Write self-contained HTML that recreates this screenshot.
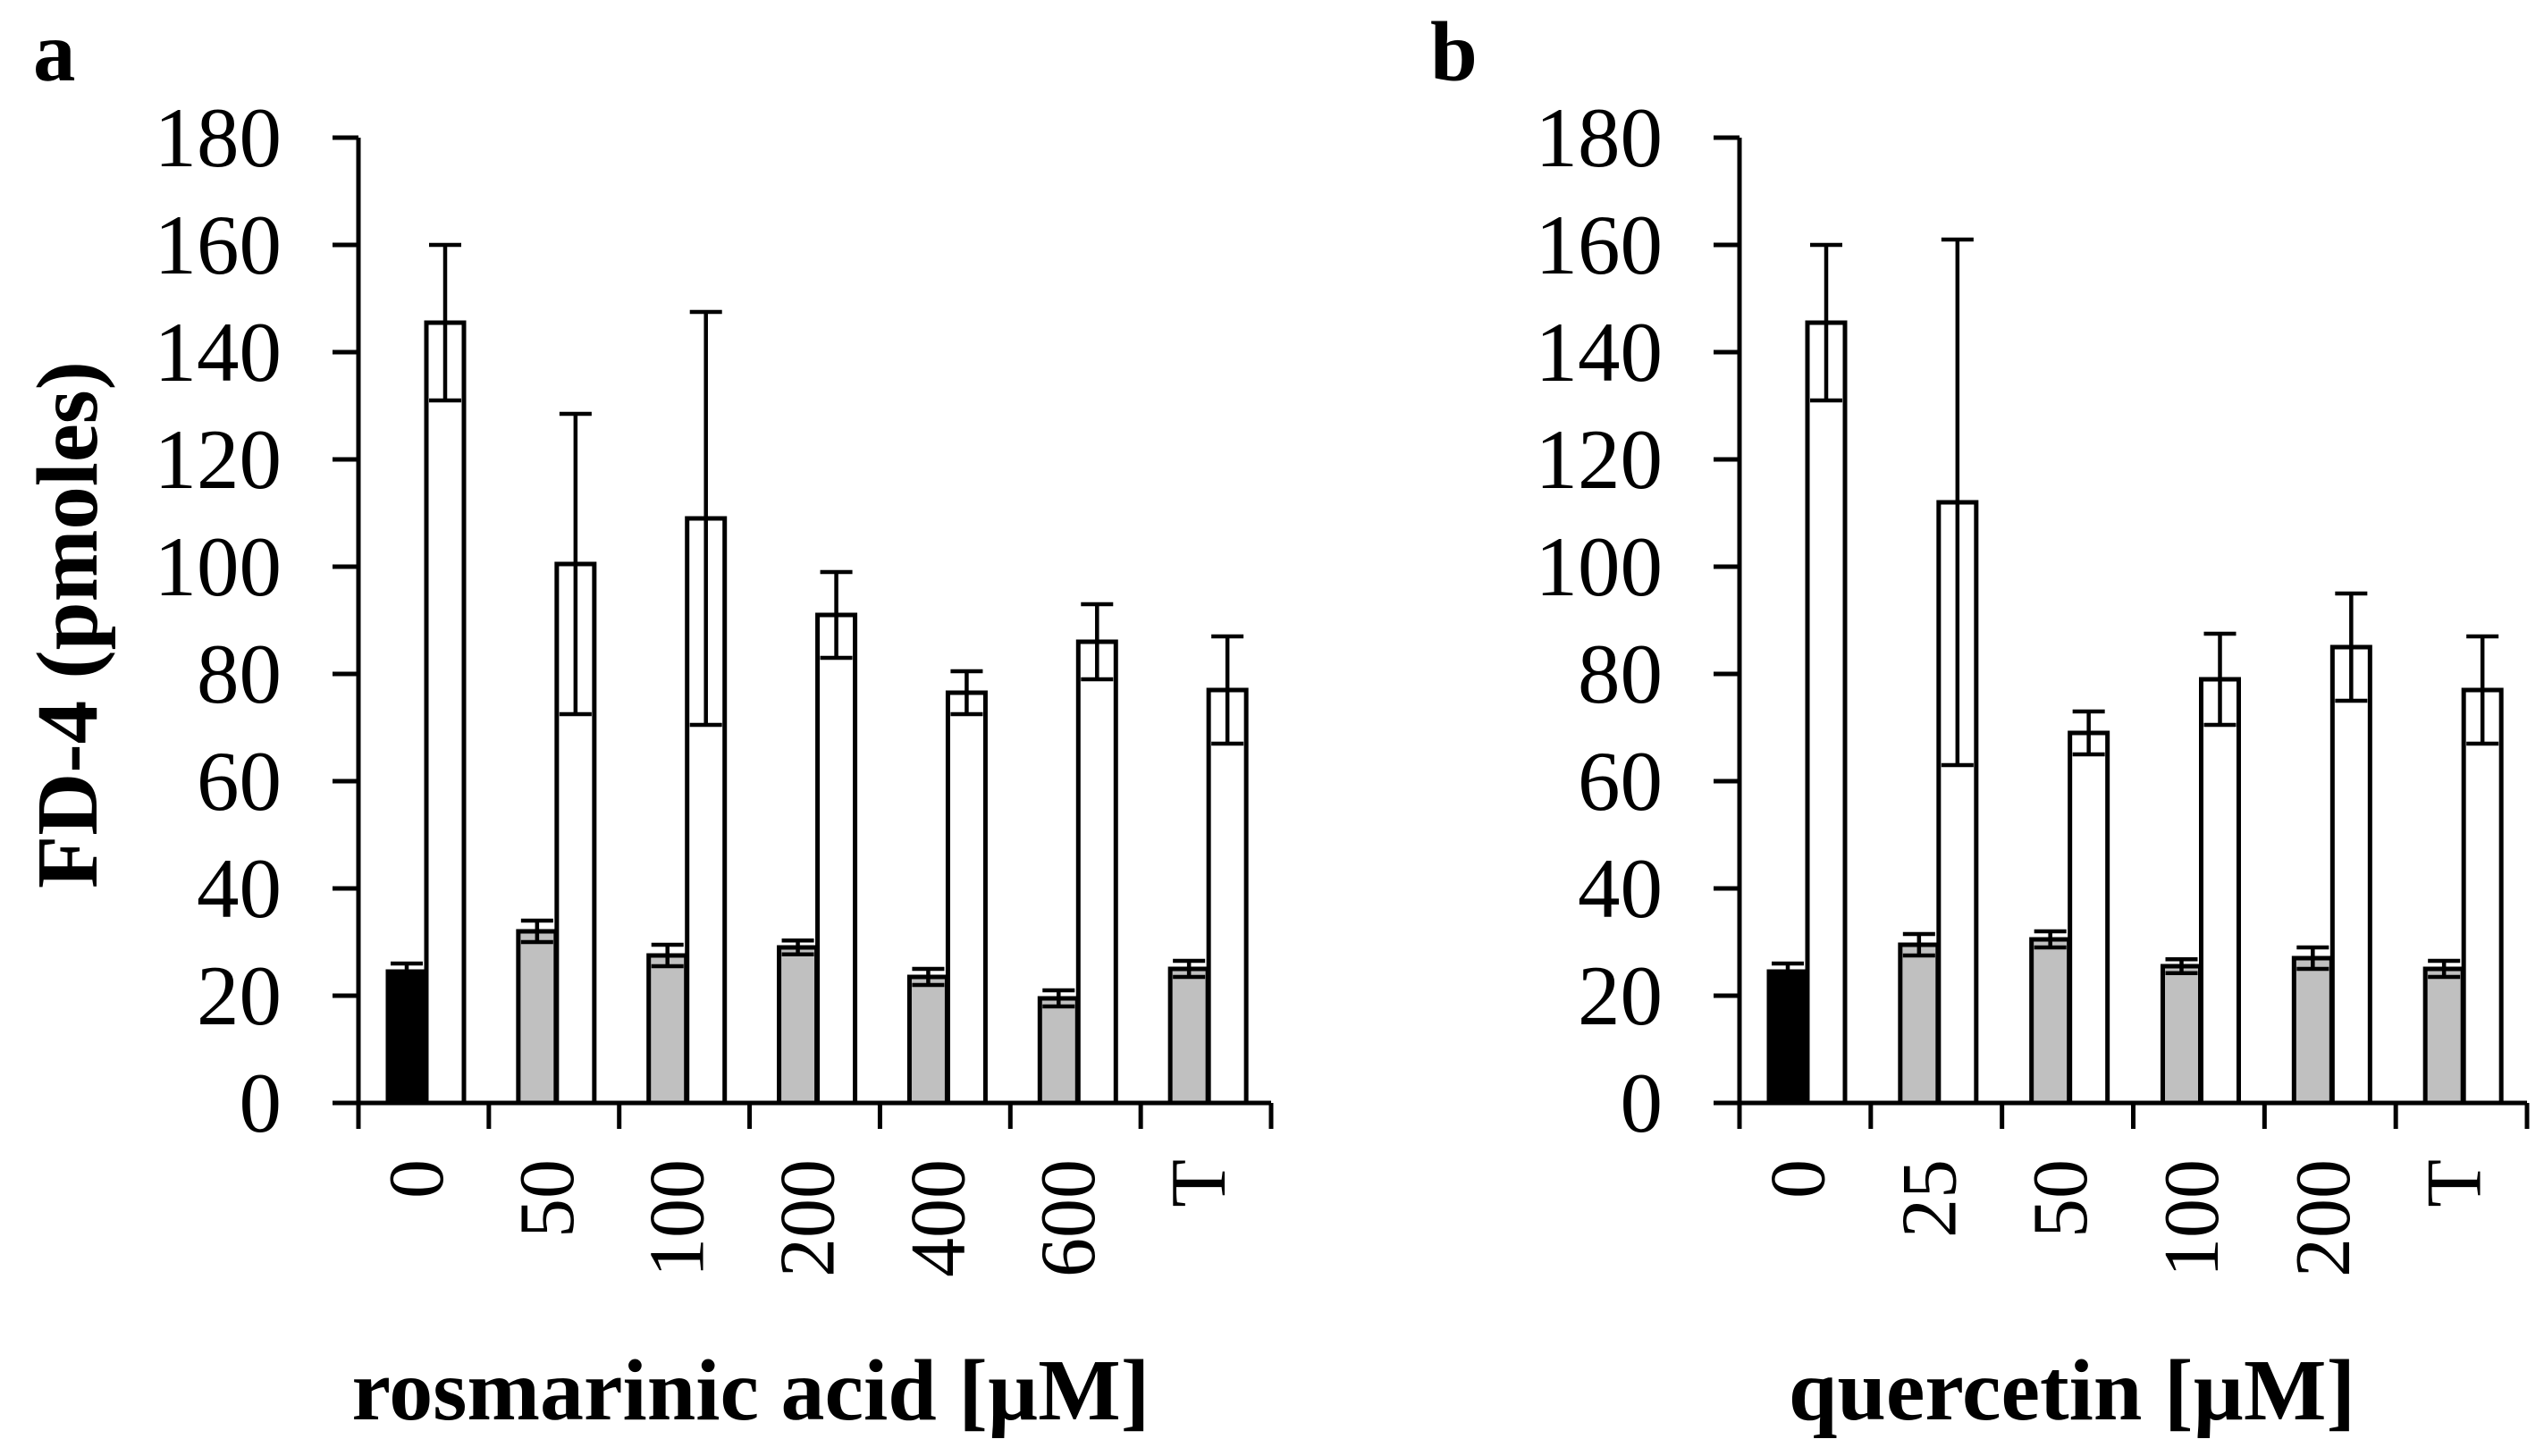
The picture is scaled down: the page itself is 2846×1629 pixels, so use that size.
<!DOCTYPE html>
<html><head><meta charset="utf-8"><style>html,body{margin:0;padding:0;background:#fff}svg{display:block}text{font-family:"Liberation Serif","Times New Roman",serif;fill:#000}</style></head>
<body>
<svg id="chart" xmlns="http://www.w3.org/2000/svg" width="2846" height="1629" viewBox="0 0 2846 1629">
<text x="37" y="90" font-size="95" font-weight="bold">a</text>
<text x="1600" y="90" font-size="95" font-weight="bold">b</text>
<text transform="translate(108,699) rotate(-90)" text-anchor="middle" font-size="97" font-weight="bold">FD-4 (pmoles)</text>
<text x="840" y="1588" text-anchor="middle" font-size="98" font-weight="bold">rosmarinic acid [µM]</text>
<text x="2318" y="1588" text-anchor="middle" font-size="98" font-weight="bold">quercetin [µM]</text>
<g id="pa"></g>
<g id="pb"></g>
</svg>
<script>
const yTicks = [0,20,40,60,80,100,120,140,160,180];
const catsA = ["0","50","100","200","400","600","T"];
const lowA = [24.5,32,27.5,29,23.5,19.5,25];
const lowErrA = [1.5,2,2,1.3,1.5,1.5,1.5];
const highA = [145.5,100.5,109,91,76.5,86,77];
const highErrA = [14.5,28,38.5,8,4,7,10];
const catsB = ["0","25","50","100","200","T"];
const lowB = [24.5,29.5,30.5,25.5,27,25];
const lowErrB = [1.5,2,1.5,1.3,2,1.5];
const highB = [145.5,112,69,79,85,77];
const highErrB = [14.5,49,4,8.5,10,10];

const NS="http://www.w3.org/2000/svg";
function mk(tag,attrs,parent){const e=document.createElementNS(NS,tag);for(const k in attrs)e.setAttribute(k,attrs[k]);parent.appendChild(e);return e;}
function drawPanel(g,x0,x1,cats,low,lowErr,high,highErr){
  const y0=1234, y180=154;
  const y=v=>y0-(v/180)*(y0-y180);
  const cw=(x1-x0)/cats.length;
  const axis=mk('path',{d:`M${x0} ${y180}V${y0}H${x1}`,stroke:'#000','stroke-width':5,fill:'none'},g);
  
  
  yTicks.forEach(t=>{
    const l=mk('line',{x1:x0-29,x2:x0,y1:y(t),y2:y(t),stroke:'#000','stroke-width':5},g);
    
    
    const tx=mk('text',{x:x0-86,y:y(t)+32,'text-anchor':'end','font-size':95},g);
    tx.textContent=t;
    
    
  });
  for(let i=0;i<=cats.length;i++){
    const l=mk('line',{x1:x0+i*cw,x2:x0+i*cw,y1:y0,y2:1263,stroke:'#000','stroke-width':5},g);
    
    
  }
  cats.forEach((c,i)=>{
    const cx=x0+i*cw;
    const gx=cx+33, wx=cx+76, bw=42;
    const ctrl=i===0;
    const r1=mk('rect',{x:gx,y:y(low[i]),width:bw,height:y0-y(low[i]),fill:ctrl?'#000':'#c0c0c0',stroke:'#000','stroke-width':5},g);
    
    
    const r2=mk('rect',{x:wx,y:y(high[i]),width:bw,height:y0-y(high[i]),fill:'#fff',stroke:'#000','stroke-width':5},g);
    
    
    [[gx+bw/2,low[i],lowErr[i]],[wx+bw/2,high[i],highErr[i]]].forEach(([ex,v,e])=>{
      const p=mk('path',{d:`M${ex} ${y(v+e)}V${y(v-e)}M${ex-18} ${y(v+e)}H${ex+18}M${ex-18} ${y(v-e)}H${ex+18}`,stroke:'#000','stroke-width':4.5,fill:'none'},g);
      
      
    });
    const tx=mk('text',{transform:`translate(${cx+cw/2+21},1297) rotate(-90)`,'text-anchor':'end','font-size':88},g);
    tx.textContent=c;
    
    
  });
}
drawPanel(document.getElementById('pa'),401,1422,catsA,lowA,lowErrA,highA,highErrA);
drawPanel(document.getElementById('pb'),1946,2827,catsB,lowB,lowErrB,highB,highErrB);
</script>
</body></html>
